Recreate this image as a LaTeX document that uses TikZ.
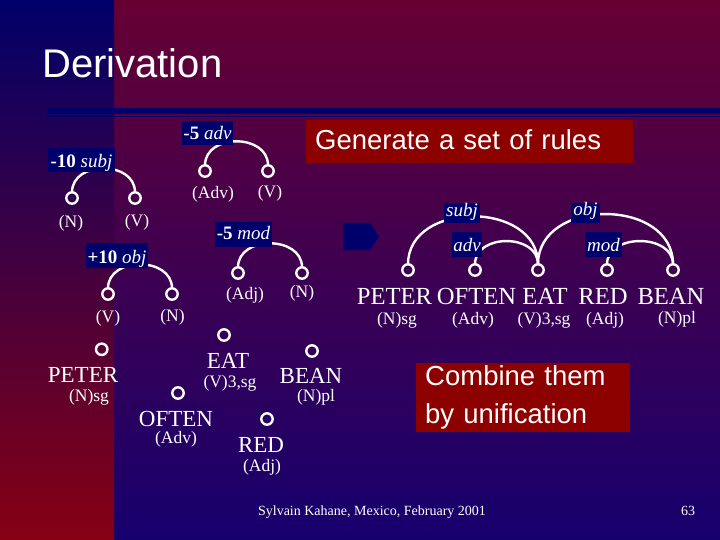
\documentclass[tikz,border=0pt]{standalone}
\usepackage{fontspec}
\setmainfont{Liberation Serif}
\newfontfamily\arialf{Liberation Sans}
\definecolor{navy}{RGB}{0,0,108}
\definecolor{boxred}{RGB}{140,0,0}
\definecolor{ltop}{RGB}{0,0,105}
\definecolor{lbot}{RGB}{135,0,20}
\definecolor{rtop}{RGB}{102,0,51}
\definecolor{rbot}{RGB}{22,0,110}
\begin{document}
\begin{tikzpicture}[x=1pt,y=-1pt,
  every node/.style={text=white},
  dot/.style={circle,draw=white,line width=2.4pt,minimum size=11.4pt,inner sep=0pt,outer sep=0pt},
  arcln/.style={draw=white,line width=2.4pt},
  rlab/.style={fill=navy,inner sep=0pt,text depth=0pt,font=\fontsize{19}{22}\selectfont},
  word/.style={anchor=base,inner sep=0pt,font=\fontsize{23}{26}\selectfont},
  bigword/.style={anchor=base,inner sep=0pt,font=\fontsize{24.6}{28}\selectfont},
  small/.style={anchor=base,inner sep=0pt,font=\fontsize{17.5}{20}\selectfont},
  redbox/.style={fill=boxred,font=\arialf\fontsize{27.5}{38}\selectfont,align=left}
]
\useasboundingbox (0,0) rectangle (720,540);
% background
\shade[top color=rtop,bottom color=rbot] (0,0) rectangle (720,540);
\shade[top color=ltop,bottom color=lbot] (0,0) rectangle (114,540);
\fill[navy] (47,107.7) rectangle (720,114.3);
\fill[navy] (47,116) rectangle (720,117.2);
% title
\node[anchor=base west,inner sep=0pt,font=\arialf\fontsize{40}{45}\selectfont] (title) at (42,78) {Derivation};

% ---------- rule 1: subj
\node[dot] (r1a) at (72,198) {};
\node[dot] (r1b) at (135,198) {};
\draw[arcln] (r1a.north) .. controls +(0,-32) and +(0,-32) .. (r1b.north);
\node[rlab,minimum width=67pt,minimum height=24pt,text height=14.6pt] (r1) at (81.5,160) {\textbf{-10} \textit{subj}};
\node[small] (r1al) at (71,227) {(N)};
\node[small] (r1bl) at (137,226) {(V)};

% ---------- rule 2: adv
\node[dot] (r2a) at (205,171) {};
\node[dot] (r2b) at (268,171) {};
\draw[arcln] (r2a.north) .. controls +(0,-32) and +(0,-32) .. (r2b.north);
\node[rlab,minimum width=51pt,minimum height=24pt,text height=12.6pt] (r2) at (207.5,133) {\textbf{-5} \textit{adv}};
\node[small] (r2al) at (213,199) {(Adv)};
\node[small] (r2bl) at (270,197.5) {(V)};

% ---------- rule 3: obj
\node[dot] (r3a) at (108,294) {};
\node[dot] (r3b) at (172,294) {};
\draw[arcln] (r3a.north) .. controls +(0,-32) and +(0,-32) .. (r3b.north);
\node[rlab,minimum width=62pt,minimum height=25pt,text height=15.6pt] (r3) at (117,255.5) {\textbf{+10} \textit{obj}};
\node[small] (r3al) at (108,322) {(V)};
\node[small] (r3bl) at (172.5,321) {(N)};

% ---------- rule 4: mod
\node[dot] (r4a) at (238,273) {};
\node[dot] (r4b) at (302,273) {};
\draw[arcln] (r4a.north) .. controls +(0,-32) and +(0,-32) .. (r4b.north);
\node[rlab,minimum width=57pt,minimum height=25pt,text height=11pt] (r4) at (243.5,234.5) {\textbf{-5} \textit{mod}};
\node[small] (r4al) at (245,299) {(Adj)};
\node[small] (r4bl) at (302,297) {(N)};

% ---------- lexical rules
\node[dot] (lpeter) at (101.7,349.3) {};
\node[word] (tpeter) at (83,382.6) {PETER};
\node[small] (gpeter) at (89,401.5) {(N)sg};
\node[dot] (leat) at (224,335) {};
\node[word] (teat) at (228,368.3) {EAT};
\node[small] (geat) at (230,387) {(V)3,sg};
\node[dot] (lbean) at (312,351) {};
\node[word] (tbean) at (311,383.3) {BEAN};
\node[small] (gbean) at (316,401) {(N)pl};
\node[dot] (loften) at (178,393) {};
\node[word] (toften) at (176,426) {OFTEN};
\node[small] (goften) at (176,443) {(Adv)};
\node[dot] (lred) at (267,419) {};
\node[word] (tred) at (261,452.5) {RED};
\node[small] (gred) at (262,471) {(Adj)};

% ---------- arrow
\fill[navy] (343,223) -- (370,223) -- (379,236.5) -- (370,250) -- (343,250) -- cycle;

% ---------- combined tree
\node[dot] (speter) at (408,270) {};
\node[dot] (soften) at (475,270) {};
\node[dot] (seat) at (538,270) {};
\node[dot] (sred) at (607,270) {};
\node[dot] (sbean) at (673,270) {};
\draw[arcln] (speter.north) .. controls +(0,-64) and +(0,-64) .. (seat.north);
\draw[arcln] (soften.north) .. controls +(0,-31) and +(0,-31) .. (seat.north);
\draw[arcln] (seat.north) .. controls +(0,-67) and +(0,-67) .. (sbean.north);
\draw[arcln] (sred.north) .. controls +(0,-31) and +(0,-31) .. (sbean.north);
\node[rlab,minimum width=36pt,minimum height=20pt,text height=7pt] (lsubj) at (462,213) {\textit{subj}};
\node[rlab,minimum width=30pt,minimum height=25pt,text height=14pt] (ladv) at (467,244.5) {\textit{adv}};
\node[rlab,minimum width=29pt,minimum height=20pt,text height=4pt] (lobj) at (585.5,213) {\textit{obj}};
\node[rlab,minimum width=37pt,minimum height=25pt,text height=14pt] (lmod) at (603.5,244.5) {\textit{mod}};
\node[bigword] (wpeter) at (394.5,304.5) {PETER};
\node[bigword] (woften) at (476.5,304.5) {OFTEN};
\node[bigword] (weat) at (545,304.5) {EAT};
\node[bigword] (wred) at (603,304.5) {RED};
\node[bigword] (wbean) at (671,304.5) {BEAN};
\node[small] (hpeter) at (397,324.5) {(N)sg};
\node[small] (hoften) at (473,324.5) {(Adv)};
\node[small] (heat) at (544,324.5) {(V)3,sg};
\node[small] (hred) at (605,324.5) {(Adj)};
\node[small] (hbean) at (677,323) {(N)pl};

% ---------- red boxes
\node[redbox,anchor=west,minimum height=43pt,text height=17pt,text depth=0pt,inner xsep=9pt,text width=309pt] (gen) at (306,141.5) {Generate a set of rules};
\node[redbox,anchor=north west,inner xsep=9pt,inner ysep=2.5pt,text width=196pt] (comb) at (416,363) {Combine them\\by unification};

% ---------- footer
\node[anchor=base,inner sep=0pt,font=\fontsize{14}{16}\selectfont] (foot) at (372,515) {Sylvain Kahane, Mexico, February 2001};
\node[anchor=base,inner sep=0pt,font=\fontsize{14}{16}\selectfont] (page) at (688,515) {63};
\end{tikzpicture}
\end{document}
